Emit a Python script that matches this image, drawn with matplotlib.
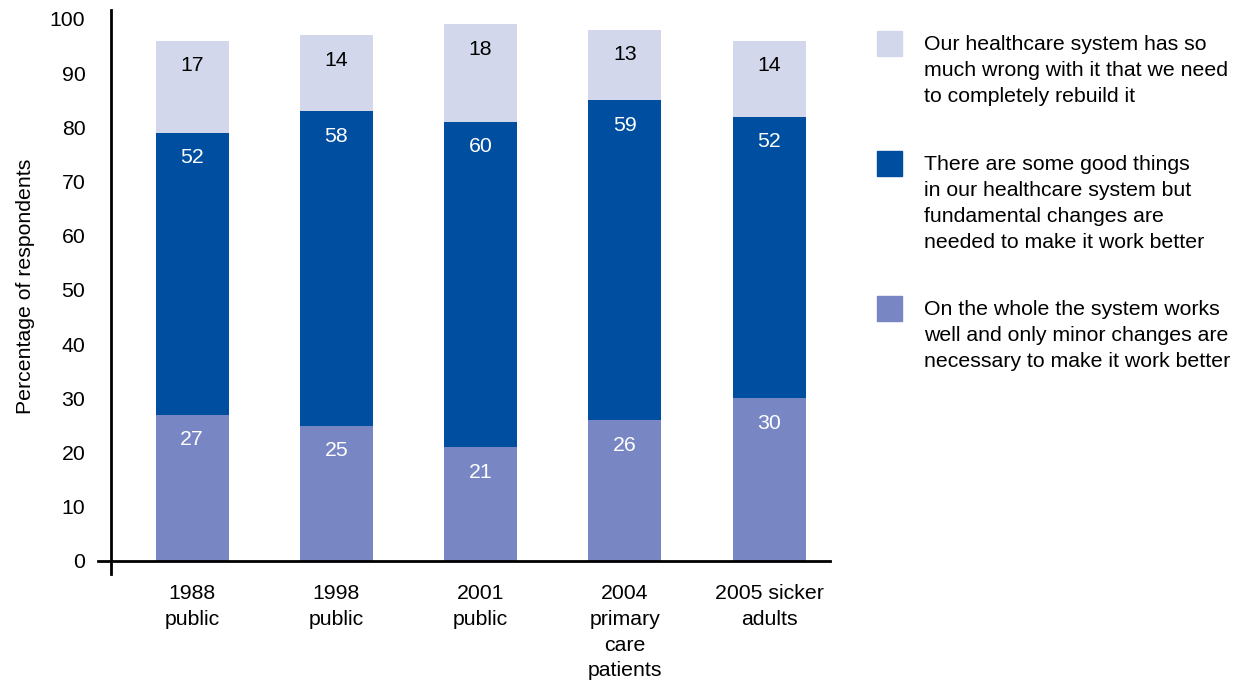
import matplotlib
matplotlib.use("Agg")
import matplotlib.pyplot as plt
from matplotlib.patches import Rectangle
from matplotlib.lines import Line2D

plt.rcParams['font.family'] = ['Liberation Sans', 'DejaVu Sans']

categories = ["1988\npublic", "1998\npublic", "2001\npublic",
              "2004\nprimary\ncare\npatients", "2005 sicker\nadults"]
minor_changes = [27, 25, 21, 26, 30]
fundamental_changes = [52, 58, 60, 59, 52]
rebuild = [17, 14, 18, 13, 14]

series_labels = [
    "Our healthcare system has so\nmuch wrong with it that we need\nto completely rebuild it",
    "There are some good things\nin our healthcare system but\nfundamental changes are\nneeded to make it work better",
    "On the whole the system works\nwell and only minor changes are\nnecessary to make it work better",
]
c_light = "#D3D7EC"
c_dark = "#004EA0"
c_mid = "#7887C3"

W, H = 1252, 681
fig = plt.figure(figsize=(W / 100, H / 100), dpi=100)

# axes box in pixel coordinates
left_px, right_px, top_px, bottom_px = 111, 830, 10, 574
ax = fig.add_axes([left_px / W, 1 - bottom_px / H,
                   (right_px - left_px) / W, (bottom_px - top_px) / H])

ppu = (561 - 19) / 100.0  # pixels per percent
ax.set_ylim(-(bottom_px - 561) / ppu, (561 - top_px) / ppu)
spacing = 144.3
ax.set_xlim((left_px - 192) / spacing, (right_px - 192) / spacing)

x = list(range(len(categories)))
width = 73 / spacing
bottom2 = [a for a in minor_changes]
bottom3 = [a + b for a, b in zip(minor_changes, fundamental_changes)]

ax.bar(x, minor_changes, width, color=c_mid, zorder=2)
ax.bar(x, fundamental_changes, width, bottom=bottom2, color=c_dark, zorder=2)
ax.bar(x, rebuild, width, bottom=bottom3, color=c_light, zorder=2)

off = 25 / ppu
fs = 15.3
for i in x:
    ax.text(i, minor_changes[i] - off, str(minor_changes[i]), ha='center',
            va='center', color='white', fontsize=fs, zorder=3)
    ax.text(i, bottom3[i] - off, str(fundamental_changes[i]), ha='center',
            va='center', color='white', fontsize=fs, zorder=3)
    ax.text(i, bottom3[i] + rebuild[i] - off, str(rebuild[i]), ha='center',
            va='center', color='black', fontsize=fs, zorder=3)

for s in ax.spines.values():
    s.set_visible(False)

# axis lines crossing at the origin
x0 = ax.get_xlim()[0]
ax.add_line(Line2D([x0, x0], [ax.get_ylim()[0], ax.get_ylim()[1]],
                   color='black', lw=2, clip_on=False, zorder=4))
ax.add_line(Line2D([(98 - 192) / spacing, ax.get_xlim()[1]], [0, 0],
                   color='black', lw=2, clip_on=False, zorder=4))

ax.set_yticks(range(0, 101, 10))
ax.tick_params(axis='y', length=0, pad=18.5, labelsize=fs)
ax.set_xticks(x)
ax.set_xticklabels(categories, fontsize=fs, linespacing=1.46)
ax.tick_params(axis='x', length=0, pad=7.0)
ax.set_ylabel("Percentage of respondents", fontsize=fs)
ax.yaxis.set_label_coords((35 - left_px) / (right_px - left_px),
                          (bottom_px - 286) / (bottom_px - top_px))

# legend drawn as squares with wrapped text
colors = [c_light, c_dark, c_mid]
tops = [31, 151, 296]
for c, t, lab in zip(colors, tops, series_labels):
    fig.add_artist(Rectangle((877 / W, 1 - (t + 25) / H), 25 / W, 25 / H,
                             transform=fig.transFigure, color=c))
    fig.text(924 / W, 1 - (t + 4) / H, lab, fontsize=fs, va='top',
             ha='left', linespacing=1.47)

fig.savefig("out.png", dpi=100)
